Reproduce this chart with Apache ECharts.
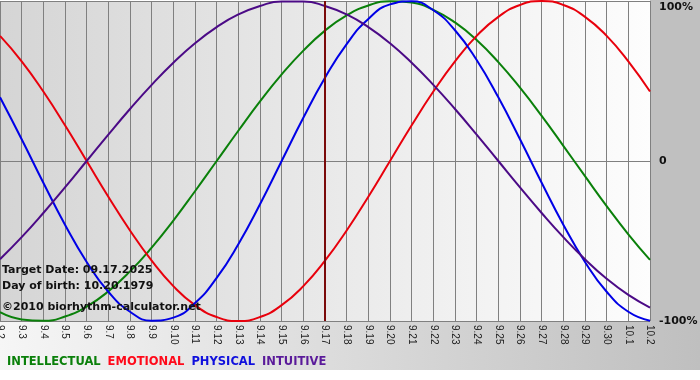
<!DOCTYPE html>
<html>
<head>
<meta charset="utf-8">
<script src="https://cdn.jsdelivr.net/npm/echarts@6/dist/echarts.min.js"></script>
<style>html,body{margin:0;padding:0;background:#fff}#c{width:700px;height:380px}</style>
</head>
<body>
<div id="c"></div>
<script>
var dates = ['9.2','9.3','9.4','9.5','9.6','9.7','9.8','9.9','9.10','9.11','9.12','9.13','9.14','9.15','9.16','9.17','9.18','9.19','9.20','9.21','9.22','9.23','9.24','9.25','9.26','9.27','9.28','9.29','9.30','10.1','10.2'];
var intellectual = [-0.945,-0.990,-0.999,-0.972,-0.910,-0.815,-0.690,-0.541,-0.372,-0.189,0,0.189,0.372,0.541,0.690,0.815,0.910,0.972,0.999,0.990,0.945,0.866,0.756,0.618,0.458,0.282,0.095,-0.095,-0.282,-0.458,-0.618];
var emotional = [0.782,0.623,0.434,0.223,0,-0.223,-0.434,-0.623,-0.782,-0.901,-0.975,-1,-0.975,-0.901,-0.782,-0.623,-0.434,-0.223,0,0.223,0.434,0.623,0.782,0.901,0.975,1,0.975,0.901,0.782,0.623,0.434];
var physical = [0.398,0.136,-0.136,-0.398,-0.631,-0.817,-0.942,-0.998,-0.979,-0.888,-0.731,-0.520,-0.270,0,0.270,0.520,0.731,0.888,0.979,0.998,0.942,0.817,0.631,0.398,0.136,-0.136,-0.398,-0.631,-0.817,-0.942,-0.998];
var intuitive = [-0.614,-0.476,-0.325,-0.165,0,0.165,0.325,0.476,0.614,0.736,0.837,0.916,0.969,0.997,0.997,0.969,0.916,0.837,0.736,0.614,0.476,0.325,0.165,0,-0.165,-0.325,-0.476,-0.614,-0.736,-0.837,-0.916];
var targetDay = '9.17';
var infoLines = ['Target Date: 09.17.2025', 'Day of birth: 10.20.1979', '\u00A92010 biorhythm-calculator.net'];
var names = ['INTELLECTUAL','EMOTIONAL','PHYSICAL','INTUITIVE'];
var colors = ['#0a800a','#e8000c','#0000e6','#4b0a86'];
var legendColors = ['#0a800a','#ff0a1a','#1010dd','#5a1a9a'];

var chart = echarts.init(document.getElementById('c'), null, {renderer:'canvas'});
var fontB = '"DejaVu Sans", Verdana, sans-serif';
function line(name, data, color, extra) {
  var s = {name:name, type:'line', data:data, smooth:true, symbol:'none',
    lineStyle:{color:color, width:2}, itemStyle:{color:color}, z:3, animation:false};
  if (extra) for (var k in extra) s[k] = extra[k];
  return s;
}
var option = {
  animation:false,
  backgroundColor:'#ffffff',
  grid:{left:0, top:1, right:50, bottom:59, show:true, borderWidth:0, containLabel:false, outerBoundsMode:'none',
    backgroundColor: new echarts.graphic.LinearGradient(0,0,1,0,[{offset:0,color:'#d5d5d5'},{offset:1,color:'#fdfdfd'}])},
  legend:{left:-3, top:351, icon:'none', itemWidth:0, itemHeight:0, itemGap:2,
    textStyle:{fontFamily:fontB, fontWeight:'bold', fontSize:11.5},
    data: names.map(function(n,i){return {name:n, textStyle:{color:legendColors[i]}};}),
    selectedMode:false},
  graphic:[
    {type:'rect', z:-10, shape:{x:650,y:0,width:50,height:321}, style:{fill:'#c0c0c0'}, silent:true},
    {type:'rect', z:-10, shape:{x:0,y:321,width:700,height:49},
      style:{fill:new echarts.graphic.LinearGradient(0,0,1,0,[{offset:0,color:'#f6f6f6'},{offset:1,color:'#bfbfbf'}])}, silent:true},
    {type:'text', z:10, left:2, top:265, style:{text:infoLines[0], font:'bold 11px "DejaVu Sans", Verdana, sans-serif', fill:'#111'}},
    {type:'text', z:10, left:2, top:281, style:{text:infoLines[1], font:'bold 11px "DejaVu Sans", Verdana, sans-serif', fill:'#111'}},
    {type:'text', z:10, left:2, top:302, style:{text:infoLines[2], font:'bold 11px "DejaVu Sans", Verdana, sans-serif', fill:'#111'}}
  ],
  xAxis:{type:'category', data:dates, boundaryGap:false,
    axisLine:{show:true, lineStyle:{color:'#808080', width:1}},
    axisTick:{show:true, length:3, interval:0, lineStyle:{color:'#808080'}},
    splitLine:{show:true, interval:0, lineStyle:{color:'#808080', width:1}},
    axisLabel:{interval:0, rotate:-90, margin:4, fontSize:10, color:'#222', fontFamily:'"Liberation Sans", Arial, sans-serif'}},
  yAxis:{type:'value', position:'right', min:-1, max:1, interval:1,
    axisLine:{show:false}, axisTick:{show:false},
    splitLine:{show:true, lineStyle:{color:'#808080', width:1}},
    axisLabel:{margin:9, color:'#111', fontFamily:fontB, fontWeight:'bold', fontSize:11,
      formatter:function(v){ if (v===1) return '{top|100%}'; if (v===0) return '0'; return '-100%'; },
      rich:{top:{padding:[12,0,0,0], fontFamily:fontB, fontWeight:'bold', fontSize:11, color:'#111'}}}},
  series:[
    line(names[0], intellectual, colors[0]),
    line(names[1], emotional, colors[1]),
    line(names[2], physical, colors[2]),
    line(names[3], intuitive, colors[3], {markLine:{silent:true, symbol:'none', label:{show:false},
      lineStyle:{color:'#7a0a0a', width:2, type:'solid'}, data:[{xAxis:targetDay}], z:4}})
  ]
};
chart.setOption(option);
</script>
</body>
</html>
